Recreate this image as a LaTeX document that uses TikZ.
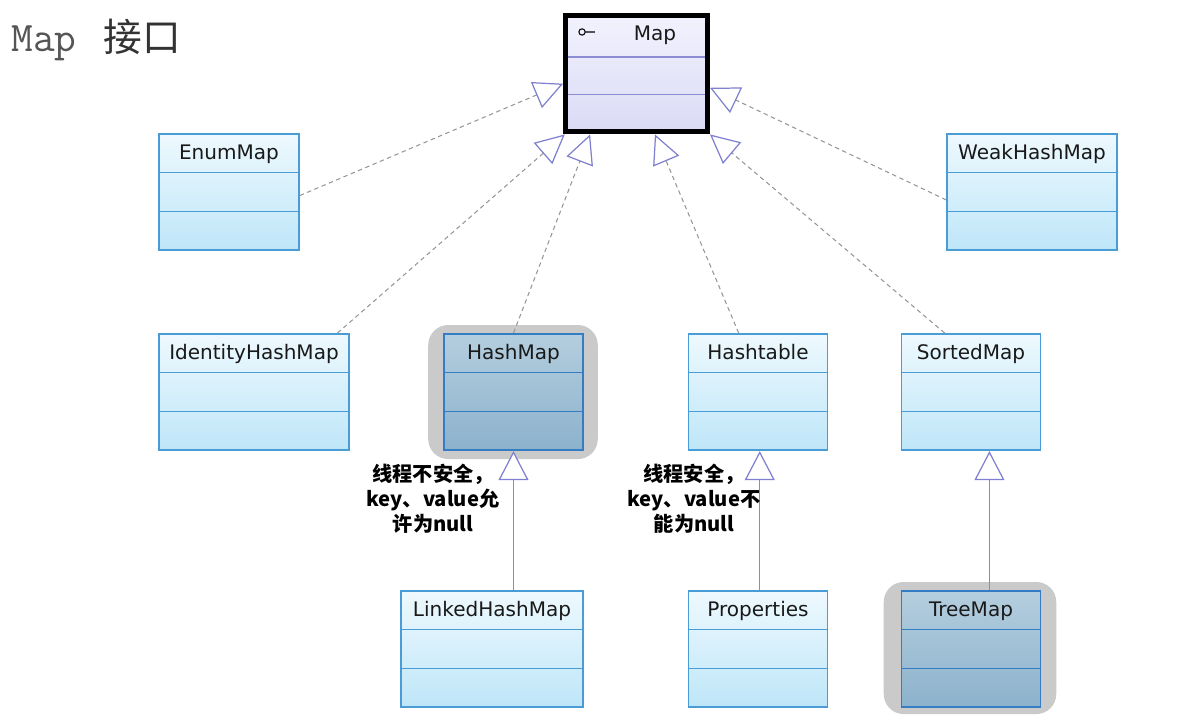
\documentclass[tikz,border=0pt]{standalone}
\usepackage{fontspec}
\setmainfont{DejaVu Sans}
\newfontfamily\cjk{Noto Sans CJK SC}
\usepackage{xcolor}
\usetikzlibrary{arrows.meta,calc,backgrounds}
\definecolor{clsline}{RGB}{74,156,214}
\definecolor{clstop}{RGB}{238,249,254}
\definecolor{clsbot}{RGB}{190,230,248}
\definecolor{hlline}{RGB}{52,124,196}
\definecolor{hltop}{RGB}{180,206,222}
\definecolor{hlbot}{RGB}{140,178,204}
\definecolor{hlshade}{RGB}{202,202,202}
\definecolor{maptop}{RGB}{242,242,254}
\definecolor{mapbot}{RGB}{218,218,246}
\definecolor{mapdiv}{RGB}{140,140,214}
\definecolor{tri}{RGB}{128,128,208}
\definecolor{dashgray}{RGB}{150,150,150}
\definecolor{solidline}{RGB}{136,136,204}
\definecolor{titlegray}{RGB}{85,85,85}
\definecolor{titledark}{RGB}{51,51,51}
\tikzset{
  compartments/.style 2 args={path picture={
    \draw[#1, line width=0.9pt]
      ($(path picture bounding box.north west)!#2!(path picture bounding box.south west)$) -- ($(path picture bounding box.north east)!#2!(path picture bounding box.south east)$)
      ($(path picture bounding box.north west)!0.667!(path picture bounding box.south west)$) -- ($(path picture bounding box.north east)!0.667!(path picture bounding box.south east)$);
  }},
  classbox/.style={draw=clsline, line width=0.9pt, top color=clstop, bottom color=clsbot, anchor=north, inner sep=0pt, minimum width=#1, text height=14.5pt, text depth=51.8pt, text=black!90, font=\fontsize{11.4}{13}\selectfont, compartments={clsline}{0.333}},
  hlbox/.style={classbox=#1, draw=hlline, top color=hltop, bottom color=hlbot, compartments={hlline}{0.333}},
  mapbox/.style={classbox=2.84cm, draw=black, line width=2.8pt, top color=maptop, bottom color=mapbot, path picture={
    \draw[mapdiv, line width=0.8pt]
      ($(path picture bounding box.north west)!0.355!(path picture bounding box.south west)$) -- ($(path picture bounding box.north east)!0.355!(path picture bounding box.south east)$)
      ($(path picture bounding box.north west)!0.68!(path picture bounding box.south west)$) -- ($(path picture bounding box.north east)!0.68!(path picture bounding box.south east)$);
    \draw[black, line width=0.6pt] ([xshift=9.4pt,yshift=-9.4pt]path picture bounding box.north west) circle[radius=1.8pt]
      ([xshift=11.2pt,yshift=-9.4pt]path picture bounding box.north west) -- ++(5.5pt,0);
  }},
  realize/.style={dashgray, line width=0.6pt, dash pattern=on 2.5pt off 2pt, -{Triangle[length=16.5pt, width=16pt, color=tri, fill=white, line width=0.7pt]}},
  inherit/.style={solidline, line width=0.6pt, -{Triangle[length=16.5pt, width=17pt, color=tri, fill=white, line width=0.7pt]}},
  note/.style={align=center, font=\cjk\bfseries\fontsize{11.5}{14.2}\selectfont}
}
\begin{document}
\begin{tikzpicture}[x=0.02cm, y=-0.02cm]
    \useasboundingbox (0,0) rectangle (1201,724);
    % title
    \node[anchor=base west, inner sep=0pt] (title) at (11,51) {\ttfamily\fontsize{24}{27}\selectfont\color{titlegray}Map \hspace{3pt}{\cjk\fontsize{22}{27}\selectfont\color{titledark}接口}};
    % classes
    \node[mapbox] (map) at (636.5,13) {\hspace*{21pt}Map};
    \node[classbox=2.80cm] (enum) at (229,133) {EnumMap};
    \node[classbox=3.40cm] (weak) at (1032,133) {WeakHashMap};
    \node[classbox=3.80cm] (ident) at (254,333) {IdentityHashMap};
    \node[hlbox=2.78cm] (hash) at (513.5,333) {HashMap};
    \node[classbox=2.78cm] (table) at (758,333) {Hashtable};
    \node[classbox=2.78cm] (sorted) at (971,333) {SortedMap};
    \node[classbox=3.64cm] (linked) at (492,590) {LinkedHashMap};
    \node[classbox=2.78cm] (props) at (758,590) {Properties};
    \node[hlbox=2.78cm] (tree) at (971,590) {TreeMap};
    \begin{scope}[on background layer]
        \fill[hlshade, rounded corners=0.4cm] ($(hash.north west)+(-15,-8)$) rectangle ($(hash.south east)+(14,8)$);
        \fill[hlshade, rounded corners=0.4cm] ($(tree.north west)+(-17,-8)$) rectangle ($(tree.south east)+(15,6)$);
    \end{scope}
    % realizations of Map
    \draw[realize] ([yshift=-2pt]enum.east) -- ([yshift=-5.7pt]map.west);
    \draw[realize] ([yshift=-4.5pt]weak.west) -- ([yshift=-8pt]map.east);
    \draw[realize] ([xshift=-7pt]ident.north east) -- ([xshift=1pt]map.south west);
    \draw[realize] (hash.north) -- ([xshift=-26.4pt]map.south);
    \draw[realize] ([xshift=-11pt]table.north) -- ([xshift=10.5pt]map.south);
    \draw[realize] ([xshift=25pt]sorted.north west) -- (map.south east);
    % subclasses
    \draw[inherit] (hash.south |- linked.north) -- (hash.south);
    \draw[inherit] ([xshift=1pt]props.north) -- ([xshift=1pt]table.south);
    \draw[inherit] ([xshift=10.5pt]tree.north) -- ([xshift=10.5pt]sorted.south);
    % notes
    \node[note] (hashnote) at (433,499) {线程不安全，\\key、value允\\许为null};
    \node[note] (tablenote) at (694,499) {线程安全，\\key、value不\\能为null};
\end{tikzpicture}
\end{document}
